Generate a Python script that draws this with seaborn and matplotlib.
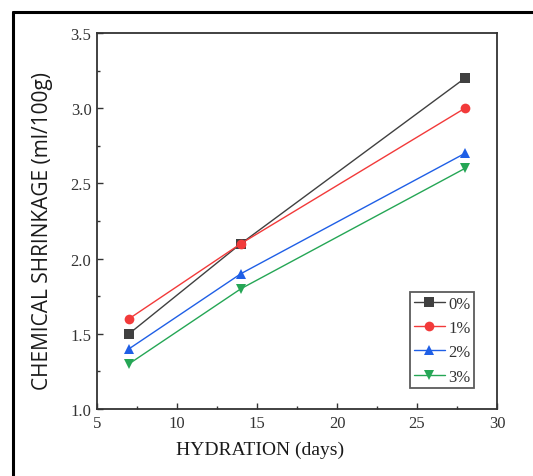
import numpy as np
import pandas as pd
import matplotlib
matplotlib.use("Agg")
import matplotlib.pyplot as plt
from matplotlib.lines import Line2D
from matplotlib.ticker import MultipleLocator, FormatStrFormatter
import seaborn as sns

# Chemical shrinkage at each hydration age for each additive dosage
days = [7, 14, 28]
dosages = ["0%", "1%", "2%", "3%"]
shrink_0 = [1.5, 2.1, 3.2]
shrink_1 = [1.6, 2.1, 3.0]
shrink_2 = [1.4, 1.9, 2.7]
shrink_3 = [1.3, 1.8, 2.6]

colors = ["#404040", "#f23a3a", "#1f5fe6", "#25a655"]
markers = ["s", "o", "^", "v"]

df = pd.DataFrame({
    "days": days * 4,
    "shrinkage": shrink_0 + shrink_1 + shrink_2 + shrink_3,
    "dosage": [d for d in dosages for _ in days],
})

sns.set_style("ticks")
serif = ["Liberation Serif", "DejaVu Serif"]

fig = plt.figure(figsize=(5.33, 4.77), dpi=100)
ax = fig.add_axes([97 / 533, 1 - 410 / 477, 400 / 533, 376 / 477])

sns.lineplot(
    data=df, x="days", y="shrinkage", hue="dosage", style="dosage",
    palette=colors, markers=markers, dashes=False, ax=ax,
    linewidth=1.0, markersize=7, markeredgewidth=0, legend=True,
)

ax.set_xlim(5, 30)
ax.set_ylim(1.0, 3.5)
ax.xaxis.set_major_locator(MultipleLocator(5))
ax.xaxis.set_minor_locator(MultipleLocator(2.5))
ax.yaxis.set_major_locator(MultipleLocator(0.5))
ax.yaxis.set_minor_locator(MultipleLocator(0.25))
ax.yaxis.set_major_formatter(FormatStrFormatter("%.1f"))
ax.tick_params(which="both", direction="in", color="#333333", width=1.0,
               top=False, right=False)
ax.tick_params(which="major", length=4, labelsize=12, labelcolor="#333333", pad=4)
ax.tick_params(which="minor", length=2.5)
for lab in ax.get_xticklabels() + ax.get_yticklabels():
    lab.set_family(serif)

for sp in ax.spines.values():
    sp.set_visible(True)
    sp.set_color("#333333")
    sp.set_linewidth(1.3)

ax.set_xlabel("HYDRATION (days)", fontsize=14, family=serif, color="#1a1a1a")
ax.set_ylabel("CHEMICAL SHRINKAGE (ml/100g)", fontsize=15, family=["Open Sans", "DejaVu Sans"],
              color="#1a1a1a")
ax.xaxis.set_label_coords(0.4075, -0.085)
ax.yaxis.set_label_coords(-0.11, 0.475)

handles, labels = ax.get_legend_handles_labels()
leg = ax.legend(
    handles, labels, loc="lower right", bbox_to_anchor=(0.9425, 0.056),
    borderaxespad=0, frameon=True, fancybox=False, edgecolor="#333333",
    prop={"family": serif, "size": 12}, handlelength=1.9, handletextpad=0.18,
    labelspacing=0.5, borderpad=0.2,
)
leg.get_frame().set_linewidth(1.3)
for t in leg.get_texts():
    t.set_color("#333333")

# border around the figure (top and left edges)
fig.add_artist(Line2D([13 / 533, 1.0], [1 - 13 / 477] * 2, transform=fig.transFigure,
                      color="black", lw=2.2))
fig.add_artist(Line2D([13 / 533] * 2, [0.0, 1 - 13 / 477], transform=fig.transFigure,
                      color="black", lw=2.2))

fig.savefig("out.png", dpi=100)
